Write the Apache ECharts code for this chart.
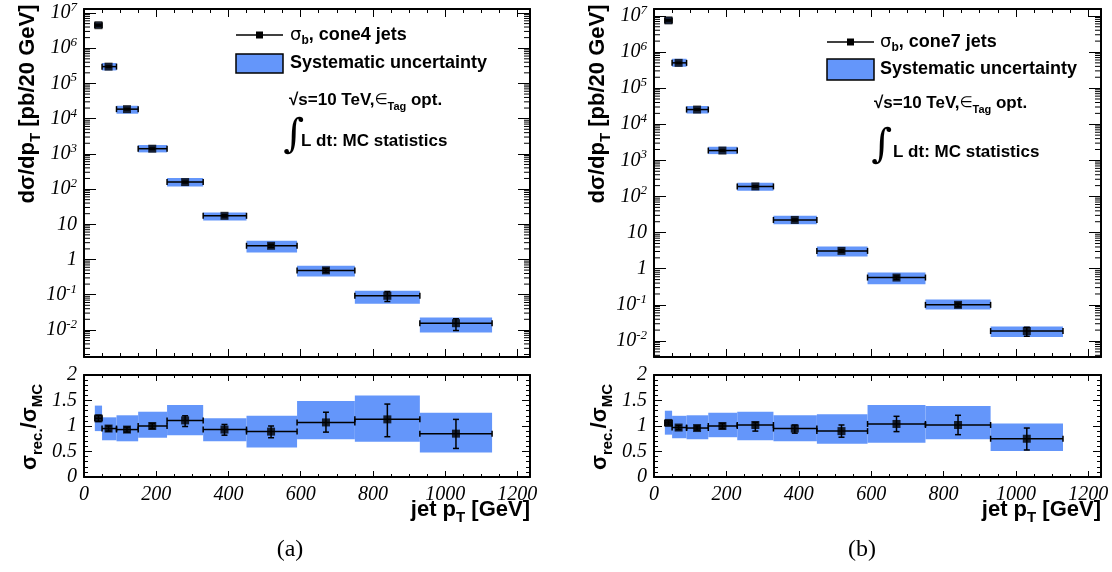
<!DOCTYPE html>
<html><head><meta charset="utf-8">
<script src="https://cdn.jsdelivr.net/npm/echarts@6/dist/echarts.min.js"></script>
<style>html,body{margin:0;padding:0;background:#fff}#c{width:1112px;height:572px}</style>
</head><body><div id="c"></div>
<script>
// ---- data ----
const binLo  = [30, 50, 90, 150, 230, 330, 450, 590, 750, 930];
const binHi  = [50, 90, 150, 230, 330, 450, 590, 750, 930, 1130];
const ptMean = [40, 68, 119, 189, 280, 389, 518, 670, 840, 1030];

// (a) cone4
const xsecA        = [4.5e6, 3.0e5, 1.86e4, 1.40e3, 158, 17.4, 2.45, 0.49, 0.093, 0.0155];
const xsecA_statLo = [4.25e6, 2.85e5, 1.77e4, 1.33e3, 149, 16.2, 2.20, 0.43, 0.064, 0.0096];
const xsecA_statHi = [4.75e6, 3.15e5, 1.95e4, 1.47e3, 167, 18.6, 2.70, 0.55, 0.123, 0.0207];
const xsecA_sysLo  = [3.75e6, 2.34e5, 1.38e4, 1.10e3, 118, 12.8, 1.58, 0.33, 0.055, 0.0084];
const xsecA_sysHi  = [5.4e6, 3.8e5, 2.32e4, 1.78e3, 205, 21.6, 3.4, 0.66, 0.129, 0.0225];
const ratioA        = [1.15, 0.95, 0.93, 1.00, 1.11, 0.93, 0.89, 1.07, 1.13, 0.85];
const ratioA_statLo = [1.09, 0.90, 0.88, 0.95, 0.99, 0.82, 0.77, 0.88, 0.79, 0.56];
const ratioA_statHi = [1.21, 1.00, 0.98, 1.05, 1.20, 1.03, 1.00, 1.27, 1.43, 1.13];
const ratioA_sysLo  = [0.90, 0.72, 0.70, 0.77, 0.82, 0.70, 0.58, 0.74, 0.69, 0.48];
const ratioA_sysHi  = [1.40, 1.17, 1.21, 1.28, 1.41, 1.15, 1.20, 1.49, 1.60, 1.26];

// (b) cone7
const xsecB        = [7.5e6, 5.0e5, 2.55e4, 1.87e3, 190, 22.4, 3.12, 0.57, 0.100, 0.0188];
const xsecB_statLo = [7.2e6, 4.8e5, 2.45e4, 1.80e3, 181, 21.0, 2.88, 0.51, 0.088, 0.0135];
const xsecB_statHi = [7.8e6, 5.2e5, 2.65e4, 1.94e3, 199, 23.8, 3.36, 0.63, 0.112, 0.024];
const xsecB_sysLo  = [6.0e6, 3.9e5, 1.98e4, 1.49e3, 145, 17.0, 2.17, 0.373, 0.0746, 0.0128];
const xsecB_sysHi  = [9.3e6, 6.5e5, 3.2e4, 2.38e3, 240, 29.5, 4.1, 0.785, 0.141, 0.0253];
const ratioB        = [1.06, 0.97, 0.96, 1.00, 1.02, 0.95, 0.90, 1.04, 1.02, 0.75];
const ratioB_statLo = [1.02, 0.93, 0.92, 0.95, 0.90, 0.86, 0.78, 0.89, 0.83, 0.53];
const ratioB_statHi = [1.10, 1.01, 1.00, 1.05, 1.07, 1.02, 1.02, 1.19, 1.21, 0.96];
const ratioB_sysLo  = [0.83, 0.76, 0.74, 0.78, 0.72, 0.70, 0.65, 0.67, 0.74, 0.51];
const ratioB_sysHi  = [1.30, 1.20, 1.21, 1.26, 1.28, 1.21, 1.23, 1.41, 1.39, 1.05];

const xTickLabels = [0, 200, 400, 600, 800, 1000, 1200];
const ratioTickLabels = [0, 0.5, 1, 1.5, 2];

// ---- layout / style ----
const X_MAX = 1235;
const Y_RANGE_A = [1.7e-3, 1.3e7];
const Y_RANGE_B = [3.6e-3, 1.55e7];
const BLUE = '#6496fa';
const SERIF = {fontFamily: 'Liberation Serif', fontStyle: 'italic', fontSize: 20, color: '#000'};
const SANSB = 'Liberation Sans';

const chart = echarts.init(document.getElementById('c'));

const grids = [
  {left: 84, top: 9, width: 446, height: 348},
  {left: 84, top: 375, width: 446, height: 102},
  {left: 654, top: 9, width: 447, height: 348},
  {left: 654, top: 375, width: 447, height: 102}
];

function logLabel(v) {
  const e = Math.log10(v), r = Math.round(e);
  if (Math.abs(e - r) > 1e-6) return '';
  if (r === 0) return '{b|1}';
  if (r === 1) return '{b|10}';
  return '{b|10}{sup|' + r + '}';
}

function xAxes(grid, showLabels, tl) {
  const base = {
    type: 'value', gridIndex: grid, min: 0, max: X_MAX, interval: 200,
    axisLine: {show: true, onZero: false, lineStyle: {color: '#000', width: 2}},
    axisTick: {show: true, inside: true, length: tl, lineStyle: {color: '#000', width: 1}},
    minorTick: {show: true, splitNumber: 4, length: tl / 2, lineStyle: {color: '#000', width: 1}},
    splitLine: {show: false}, minorSplitLine: {show: false}
  };
  return [
    Object.assign({}, base, {position: 'bottom', axisLabel: showLabels ? Object.assign({}, SERIF, {
      margin: 8, interval: 0, showMaxLabel: true,
      formatter: v => (xTickLabels.indexOf(v) >= 0 ? String(v) : '')}) : {show: false}}),
    Object.assign({}, base, {position: 'top', axisLabel: {show: false}})
  ];
}

function yLogAxes(grid, range) {
  const base = {
    type: 'log', logBase: 10, gridIndex: grid, min: range[0], max: range[1], splitNumber: 10,
    axisLine: {show: true, onZero: false, lineStyle: {color: '#000', width: 2}},
    axisTick: {show: true, inside: true, length: 12, lineStyle: {color: '#000', width: 1}},
    splitLine: {show: false}
  };
  return [
    Object.assign({}, base, {position: 'left', axisLabel: Object.assign({}, SERIF, {
      margin: 7, interval: 0, formatter: logLabel,
      rich: {b: Object.assign({}, SERIF, {lineHeight: 24}),
             sup: Object.assign({}, SERIF, {fontSize: 13, verticalAlign: 'top', lineHeight: 13})}})}),
    Object.assign({}, base, {position: 'right', axisLabel: {show: false}})
  ];
}

function yRatioAxes(grid) {
  const base = {
    type: 'value', gridIndex: grid, min: 0, max: 2, interval: 0.5,
    axisLine: {show: true, onZero: false, lineStyle: {color: '#000', width: 2}},
    axisTick: {show: true, inside: true, length: 8, lineStyle: {color: '#000', width: 1}},
    minorTick: {show: true, splitNumber: 5, length: 4, lineStyle: {color: '#000', width: 1}},
    splitLine: {show: false}, minorSplitLine: {show: false}
  };
  return [
    Object.assign({}, base, {position: 'left', axisLabel: Object.assign({}, SERIF, {
      margin: 7, interval: 0, formatter: v => (ratioTickLabels.indexOf(v) >= 0 ? String(v) : '')})}),
    Object.assign({}, base, {position: 'right', axisLabel: {show: false}})
  ];
}

function bandSeries(g, lo, hi) {
  return {
    type: 'custom', xAxisIndex: 2 * g, yAxisIndex: 2 * g, z: 1, silent: true, clip: false,
    encode: {x: [0, 1], y: [2, 3]},
    data: binLo.map((b, i) => [b, binHi[i], lo[i], hi[i]]),
    renderItem: (params, api) => {
      const p1 = api.coord([api.value(0), api.value(3)]);
      const p2 = api.coord([api.value(1), api.value(2)]);
      return {type: 'rect', shape: {x: p1[0], y: p1[1], width: p2[0] - p1[0], height: p2[1] - p1[1]},
              style: {fill: BLUE}};
    }
  };
}

function errSeries(g, vals, eLo, eHi) {
  return {
    type: 'custom', xAxisIndex: 2 * g, yAxisIndex: 2 * g, z: 2, silent: true, clip: false,
    encode: {x: [0, 2, 3], y: [1, 4, 5]},
    data: ptMean.map((p, i) => [p, vals[i], binLo[i], binHi[i], eLo[i], eHi[i]]),
    renderItem: (params, api) => {
      const v = api.value(1);
      const a = api.coord([api.value(2), v]), b = api.coord([api.value(3), v]);
      const c1 = api.coord([api.value(0), api.value(4)]), c2 = api.coord([api.value(0), api.value(5)]);
      const st = {stroke: '#000', lineWidth: 1.5};
      const cap = 3;
      return {type: 'group', children: [
        {type: 'line', shape: {x1: a[0], y1: a[1], x2: b[0], y2: b[1]}, style: st},
        {type: 'line', shape: {x1: a[0], y1: a[1] - cap, x2: a[0], y2: a[1] + cap}, style: st},
        {type: 'line', shape: {x1: b[0], y1: b[1] - cap, x2: b[0], y2: b[1] + cap}, style: st},
        {type: 'line', shape: {x1: c1[0], y1: c1[1], x2: c2[0], y2: c2[1]}, style: st},
        {type: 'line', shape: {x1: c1[0] - cap, y1: c1[1], x2: c1[0] + cap, y2: c1[1]}, style: st},
        {type: 'line', shape: {x1: c2[0] - cap, y1: c2[1], x2: c2[0] + cap, y2: c2[1]}, style: st}
      ]};
    }
  };
}

function markerSeries(g, vals) {
  return {
    type: 'scatter', xAxisIndex: 2 * g, yAxisIndex: 2 * g, z: 3, silent: true,
    symbol: 'rect', symbolSize: 8, itemStyle: {color: '#000'},
    data: ptMean.map((p, i) => [p, vals[i]])
  };
}

function logMinorSeries(g, range) {
  const vals = [];
  for (let k = -4; k <= 8; k++) for (let m = 2; m <= 9; m++) {
    const v = m * Math.pow(10, k);
    if (v > range[0] && v < range[1]) vals.push([0, v]);
  }
  return {
    type: 'custom', xAxisIndex: 2 * g, yAxisIndex: 2 * g, z: 4, silent: true, clip: false,
    data: vals,
    renderItem: (params, api) => {
      const v = api.value(1);
      const p = api.coord([0, v]), q = api.coord([X_MAX, v]);
      const st = {stroke: '#000', lineWidth: 1};
      return {type: 'group', children: [
        {type: 'line', shape: {x1: p[0], y1: p[1], x2: p[0] + 6, y2: p[1]}, style: st},
        {type: 'line', shape: {x1: q[0] - 6, y1: q[1], x2: q[0], y2: q[1]}, style: st}
      ]};
    }
  };
}

// ---- text helpers ----
const richTitle = {
  t: {fontFamily: SANSB, fontWeight: 'bold', fontSize: 22, color: '#000', lineHeight: 30},
  s: {fontFamily: SANSB, fontWeight: 'bold', fontSize: 15, color: '#000', lineHeight: 15, verticalAlign: 'bottom'}
};
const richLeg = {
  t: {fontFamily: SANSB, fontWeight: 'bold', fontSize: 18, color: '#000', lineHeight: 24},
  g: {fontFamily: 'DejaVu Sans', fontSize: 18, color: '#000', lineHeight: 24},
  s: {fontFamily: SANSB, fontWeight: 'bold', fontSize: 12, color: '#000', lineHeight: 12, verticalAlign: 'bottom'},
  a: {fontFamily: SANSB, fontWeight: 'bold', fontSize: 17, color: '#000', lineHeight: 24},
  e: {fontFamily: 'DejaVu Sans', fontSize: 15, color: '#000', lineHeight: 24},
  as: {fontFamily: SANSB, fontWeight: 'bold', fontSize: 11, color: '#000', lineHeight: 11, verticalAlign: 'bottom'}
};

function txt(x, y, text, rich, opts) {
  return Object.assign({type: 'text', x: x, y: y, z: 100,
    style: {text: text, rich: rich, align: 'left', verticalAlign: 'middle'}}, opts || {});
}

function panelGraphics(ox, leg, label, capX) {
  const g = [];
  // y titles
  g.push({type: 'text', x: ox + 28, y: 104, rotation: Math.PI / 2, z: 100,
    style: {text: '{t|dσ/dp}{s|T}{t| [pb/20 GeV]}', rich: richTitle, align: 'center', verticalAlign: 'middle'}});
  g.push({type: 'text', x: ox + 30, y: 427, rotation: Math.PI / 2, z: 100,
    style: {text: '{t|σ}{s|rec.}{t|/σ}{s|MC}', rich: richTitle, align: 'center', verticalAlign: 'middle'}});
  // x title
  g.push({type: 'text', x: capX, y: 510, z: 100,
    style: {text: '{t|jet p}{s|T}{t| [GeV]}', rich: richTitle, align: 'right', verticalAlign: 'middle'}});
  // legend
  g.push({type: 'line', z: 100, shape: {x1: leg.lx, y1: leg.ly, x2: leg.lx + 47, y2: leg.ly}, style: {stroke: '#000', lineWidth: 1.5}});
  g.push({type: 'rect', z: 101, shape: {x: leg.lx + 20, y: leg.ly - 3.5, width: 7, height: 7}, style: {fill: '#000'}});
  g.push(txt(leg.tx, leg.ly, '{g|σ}{s|b}{t|, ' + label + ' jets}', richLeg));
  g.push({type: 'rect', z: 100, shape: {x: leg.lx, y: leg.by, width: 47, height: leg.bh}, style: {fill: BLUE, stroke: '#000', lineWidth: 1.5}});
  g.push(txt(leg.tx, leg.by + leg.bh / 2, '{t|Systematic uncertainty}', richLeg));
  g.push(txt(leg.sx, leg.sy, '{a|√s=10 TeV,}{e|∈}{as|Tag}{a| opt.}', richLeg));
  g.push({type: 'text', x: leg.ix, y: leg.iy, z: 100,
    style: {text: '∫', fontFamily: 'DejaVu Serif', fontSize: 40, fill: '#000', align: 'center', verticalAlign: 'middle'}});
  g.push(txt(leg.Lx, leg.Ly, '{a|L dt: MC statistics}', richLeg));
  return g;
}

const graphics = []
  .concat(panelGraphics(0, {lx: 236, ly: 35, tx: 290, by: 54, bh: 19, sx: 289, sy: 100, ix: 294, iy: 137, Lx: 301, Ly: 141}, 'cone4', 530))
  .concat(panelGraphics(570, {lx: 827, ly: 42, tx: 880, by: 59, bh: 21, sx: 874, sy: 103, ix: 882, iy: 147, Lx: 893, Ly: 152}, 'cone7', 1101));
graphics.push({type: 'text', x: 290, y: 550, z: 100, style: {text: '(a)', fontFamily: 'Liberation Serif', fontSize: 24, fill: '#000', align: 'center', verticalAlign: 'middle'}});
graphics.push({type: 'text', x: 862, y: 550, z: 100, style: {text: '(b)', fontFamily: 'Liberation Serif', fontSize: 24, fill: '#000', align: 'center', verticalAlign: 'middle'}});

const option = {
  animation: false,
  backgroundColor: '#fff',
  grid: grids,
  xAxis: [].concat(xAxes(0, false, 8), xAxes(1, true, 6), xAxes(2, false, 8), xAxes(3, true, 6)),
  yAxis: [].concat(yLogAxes(0, Y_RANGE_A), yRatioAxes(1), yLogAxes(2, Y_RANGE_B), yRatioAxes(3)),
  series: [
    bandSeries(0, xsecA_sysLo, xsecA_sysHi), errSeries(0, xsecA, xsecA_statLo, xsecA_statHi), markerSeries(0, xsecA), logMinorSeries(0, Y_RANGE_A),
    bandSeries(1, ratioA_sysLo, ratioA_sysHi), errSeries(1, ratioA, ratioA_statLo, ratioA_statHi), markerSeries(1, ratioA),
    bandSeries(2, xsecB_sysLo, xsecB_sysHi), errSeries(2, xsecB, xsecB_statLo, xsecB_statHi), markerSeries(2, xsecB), logMinorSeries(2, Y_RANGE_B),
    bandSeries(3, ratioB_sysLo, ratioB_sysHi), errSeries(3, ratioB, ratioB_statLo, ratioB_statHi), markerSeries(3, ratioB)
  ],
  graphic: graphics
};
chart.setOption(option);
</script></body></html>
